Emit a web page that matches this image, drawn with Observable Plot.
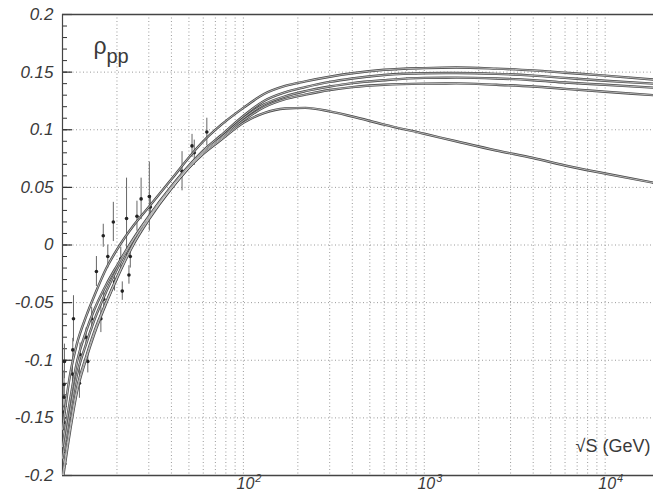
<!DOCTYPE html>
<html>
<head>
<meta charset="utf-8">
<script src="https://cdn.jsdelivr.net/npm/d3@7"></script>
<script src="https://cdn.jsdelivr.net/npm/@observablehq/plot@0.6"></script>
<style>
  html, body { margin: 0; padding: 0; background: #fff; }
  svg { display: block; }
</style>
</head>
<body>
<div id="chart"></div>
<script>
// ---- data: sqrt(s) in GeV and rho_pp for each fitted curve ----
const energies = [10, 11, 12, 13.5, 15, 17.5, 20, 25, 30, 40, 50, 60, 75, 100, 130, 170, 220, 300, 400, 600, 1000, 1500, 2500, 4000, 6000, 10000, 18500];
const curveA  = [-0.160, -0.113, -0.086, -0.062, -0.044, -0.020, -0.004, 0.018, 0.033, 0.057, 0.076, 0.090, 0.104, 0.119, 0.131, 0.138, 0.142, 0.146, 0.149, 0.152, 0.1535, 0.154, 0.153, 0.1515, 0.1495, 0.147, 0.1435];
const curveB1 = [-0.175, -0.135, -0.102, -0.075, -0.056, -0.034, -0.018, 0.007, 0.025, 0.051, 0.069, 0.082, 0.095, 0.112, 0.125, 0.1325, 0.137, 0.1415, 0.1445, 0.1475, 0.149, 0.1492, 0.1485, 0.147, 0.145, 0.1425, 0.140];
const curveB2 = [-0.185, -0.145, -0.113, -0.086, -0.065, -0.040, -0.021, 0.006, 0.024, 0.050, 0.068, 0.081, 0.093, 0.110, 0.122, 0.129, 0.1335, 0.1375, 0.1405, 0.143, 0.145, 0.1452, 0.1445, 0.143, 0.141, 0.139, 0.1365];
const curveC  = [-0.205, -0.162, -0.128, -0.099, -0.077, -0.050, -0.029, 0.002, 0.022, 0.049, 0.067, 0.080, 0.092, 0.108, 0.1195, 0.1265, 0.1305, 0.1345, 0.137, 0.139, 0.140, 0.1402, 0.139, 0.1375, 0.1355, 0.133, 0.130];
const curveD  = [-0.200, -0.158, -0.125, -0.097, -0.075, -0.049, -0.028, 0.003, 0.023, 0.049, 0.067, 0.079, 0.091, 0.106, 0.1145, 0.1185, 0.119, 0.116, 0.1115, 0.1045, 0.0965, 0.090, 0.082, 0.0755, 0.069, 0.062, 0.054];

// ---- measured points ----
const dataS   = [10.2, 10.2, 10.2, 10.2, 10.25, 11.35, 11.4, 11.5, 12.4, 12.5, 13.5, 13.8, 14.5, 15.4, 16.3, 16.8, 16.9, 17.8, 19.1, 19.4, 21.0, 21.4, 22.6, 23.3, 23.7, 25.8, 27.2, 30.2, 30.6, 45.8, 52, 53.5, 62.8];
const dataRho = [-0.154, -0.145, -0.132, -0.121, -0.101, -0.112, -0.091, -0.064, -0.120, -0.095, -0.080, -0.101, -0.064, -0.023, -0.064, 0.008, -0.047, -0.010, 0.020, -0.032, -0.012, -0.040, 0.023, -0.026, -0.010, 0.025, 0.040, 0.042, 0.033, 0.064, 0.086, 0.080, 0.098];
const dataErr = [0.008, 0.006, 0.010, 0.012, 0.015, 0.012, 0.010, 0.020, 0.013, 0.010, 0.008, 0.010, 0.010, 0.013, 0.012, 0.010, 0.008, 0.010, 0.017, 0.008, 0.010, 0.008, 0.035, 0.008, 0.010, 0.013, 0.018, 0.030, 0.010, 0.017, 0.010, 0.011, 0.012];

// ---- axis / grid values ----
const yTicks = [0.2, 0.15, 0.1, 0.05, 0, -0.05, -0.1, -0.15, -0.2];
const yTickLabels = ["0.2", "0.15", "0.1", "0.05", "0", "-0.05", "-0.1", "-0.15", "-0.2"];
const yGrid = [0.15, 0.1, 0.05, 0, -0.05, -0.1, -0.15];
const yMinor = d3.range(-19, 20).map(i => i / 100);
const xTickValues = [100, 1000, 10000];
const xTickExponents = ["2", "3", "4"];
const xGrid = [20, 30, 40, 50, 60, 70, 80, 90, 100, 200, 300, 400, 500, 600, 700, 800, 900, 1000, 2000, 3000, 4000, 5000, 6000, 7000, 8000, 9000, 10000];

// ---- build tables ----
const curves = [["A", curveA], ["B1", curveB1], ["B2", curveB2], ["C", curveC], ["D", curveD]];
const lines = curves.flatMap(([name, vals]) => energies.map((s, i) => ({curve: name, s, rho: vals[i]})));
const pts = dataS.map((s, i) => ({s, rho: dataRho[i], lo: dataRho[i] - dataErr[i], hi: dataRho[i] + dataErr[i]}));

const W = 653, H = 504, mL = 62, mR = 0, mT = 14, mB = 29;
const innerW = W - mL - mR;
const ink = "#3a3a3a";
const font = "'Liberation Sans', Arial, Helvetica, sans-serif";

const chart = Plot.plot({
  width: W, height: H,
  marginLeft: mL, marginRight: mR, marginTop: mT, marginBottom: mB,
  style: {fontFamily: font, background: "#fff", overflow: "visible"},
  x: {type: "log", domain: [10, 18500], axis: null},
  y: {domain: [-0.2, 0.2], axis: null},
  marks: [
    // dotted grid
    Plot.ruleY(yGrid, {stroke: "#9a9a9a", strokeWidth: 1, strokeDasharray: "1,2.5"}),
    Plot.ruleX(xGrid, {stroke: "#9a9a9a", strokeWidth: 1, strokeDasharray: "1,2.5"}),
    // inward ticks on the left axis
    Plot.tickY(yMinor, {stroke: "#333", strokeWidth: 1, insetRight: innerW - 5}),
    Plot.tickY(yTicks, {stroke: "#333", strokeWidth: 1.2, insetRight: innerW - 10}),
    // frame
    Plot.ruleY([0.2], {stroke: "#444", strokeWidth: 1.6}),
    Plot.ruleY([-0.2], {stroke: "#444", strokeWidth: 1.6}),
    Plot.ruleX([10], {stroke: "#444", strokeWidth: 1.2}),
    // data
    Plot.ruleX(pts, {x: "s", y1: "lo", y2: "hi", stroke: "#666", strokeWidth: 1}),
    Plot.dot(pts, {x: "s", y: "rho", r: 1.8, fill: "#222", stroke: "none"}),
    // fitted curves (tube-like scanned look)
    Plot.line(lines, {x: "s", y: "rho", z: "curve", stroke: "#4a4a4a", strokeWidth: 2.4, curve: "monotone-x", clip: true}),
    Plot.line(lines, {x: "s", y: "rho", z: "curve", stroke: "#e2e2e2", strokeWidth: 0.7, curve: "monotone-x", clip: true}),
    // y axis labels
    Plot.text(yTicks, {y: d => d, frameAnchor: "left", dx: -9, textAnchor: "end",
      text: (d, i) => yTickLabels[i], fontSize: 17, fontStyle: "italic", fill: ink}),
    // x axis labels: 10 with superscript exponent
    Plot.text(xTickValues, {x: d => d, frameAnchor: "bottom", dy: 13, dx: 2, text: () => "10",
      fontSize: 16, fontStyle: "italic", fill: ink}),
    Plot.text(xTickValues, {x: d => d, frameAnchor: "bottom", dy: 6, dx: 15, text: (d, i) => xTickExponents[i],
      fontSize: 11, fontStyle: "italic", fill: ink}),
    // annotations
    Plot.text(["ρ"], {frameAnchor: "top-left", dx: 31, dy: 39, lineAnchor: "bottom", textAnchor: "start",
      fontSize: 23, fill: ink}),
    Plot.text(["pp"], {frameAnchor: "top-left", dx: 44, dy: 48, lineAnchor: "bottom", textAnchor: "start",
      fontSize: 20, fill: ink}),
    Plot.text(["√S (GeV)"], {frameAnchor: "bottom-right", dx: -3, dy: -24, lineAnchor: "bottom", textAnchor: "end",
      fontSize: 18, fill: ink})
  ]
});
document.getElementById("chart").appendChild(chart);
</script>
</body>
</html>
